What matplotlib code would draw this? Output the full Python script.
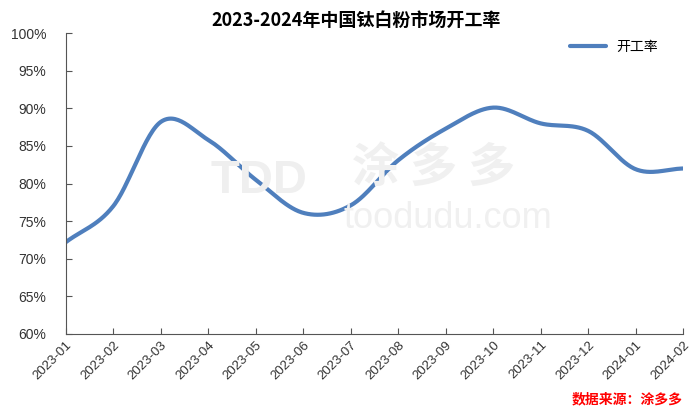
import numpy as np
import matplotlib
matplotlib.use("Agg")
import matplotlib.pyplot as plt

# data
months = ["2023-01", "2023-02", "2023-03", "2023-04", "2023-05", "2023-06", "2023-07",
          "2023-08", "2023-09", "2023-10", "2023-11", "2023-12", "2024-01", "2024-02"]
rate = [72.2, 77.0, 88.2, 85.8, 80.5, 76.1, 77.1, 83.1, 87.3, 90.1, 88.0, 87.0, 81.9, 82.0]
y_ticks = [60, 65, 70, 75, 80, 85, 90, 95, 100]

plt.rcParams['font.family'] = ['Liberation Sans', 'Noto Sans CJK SC', 'DejaVu Sans']


def smooth(x, y, n=30):
    # catmull-rom curve through the points, like excel's smoothed line
    x = np.asarray(x, float)
    y = np.asarray(y, float)
    px = np.concatenate([[2 * x[0] - x[1]], x, [2 * x[-1] - x[-2]]])
    py = np.concatenate([[2 * y[0] - y[1]], y, [2 * y[-1] - y[-2]]])
    xs, ys = [], []
    t = np.linspace(0, 1, n, endpoint=False)
    for i in range(1, len(px) - 2):
        for p, out in ((px, xs), (py, ys)):
            p0, p1, p2, p3 = p[i - 1], p[i], p[i + 1], p[i + 2]
            out.extend(0.5 * (2 * p1 + (-p0 + p2) * t + (2 * p0 - 5 * p1 + 4 * p2 - p3) * t ** 2
                              + (-p0 + 3 * p1 - 3 * p2 + p3) * t ** 3))
    xs.append(x[-1])
    ys.append(y[-1])
    return np.array(xs), np.array(ys)


fig = plt.figure(figsize=(7, 4.2), dpi=100)
ax = fig.add_axes([0.094, 0.205, 0.882, 0.716])

# watermark
fig.text(0.37, 0.57, "TDD", fontsize=34, color="#efefef", fontweight="bold",
         ha="center", va="center", zorder=0)
fig.text(0.62, 0.60, "涂 多 多", fontsize=34, color="#f0f0f0", fontweight="bold",
         ha="center", va="center", family=['Noto Sans CJK SC'], zorder=0)
fig.text(0.64, 0.48, "toodudu.com", fontsize=26, color="#f0f0f0",
         ha="center", va="center", zorder=0)

x = np.arange(len(months))
sx, sy = smooth(x, rate)
ax.plot(sx, sy, color="#4f7fbd", lw=3, label="开工率", solid_capstyle="round")

ax.set_xlim(0, len(months) - 1)
ax.set_ylim(60, 100)
ax.set_yticks(y_ticks)
ax.set_yticklabels([f"{v}%" for v in y_ticks], fontsize=10, color="#333333")
ax.set_xticks(x)
ax.set_xticklabels(months, rotation=45, ha="right", rotation_mode="anchor", fontsize=9.5,
                   color="#333333")
ax.tick_params(direction="in", length=4, color="#555555")
ax.tick_params(axis="y", pad=14)
for s in ["top", "right"]:
    ax.spines[s].set_visible(False)
for s in ["left", "bottom"]:
    ax.spines[s].set_color("#555555")
ax.patch.set_alpha(0)

ax.set_title("2023-2024年中国钛白粉市场开工率", fontsize=13, fontweight="bold",
             family=['Noto Sans CJK SC'], pad=5, loc="center", x=0.47)

leg = ax.legend(loc="upper right", frameon=False, prop={'family': 'Noto Sans CJK SC', 'size': 10},
                handlelength=2.6, bbox_to_anchor=(0.98, 1.02))

fig.text(0.975, 0.04, "数据来源：涂多多", color="red", fontsize=10, fontweight="bold",
         style="italic", ha="right", family=['Noto Sans CJK SC'])

fig.savefig("out.png", dpi=100)
